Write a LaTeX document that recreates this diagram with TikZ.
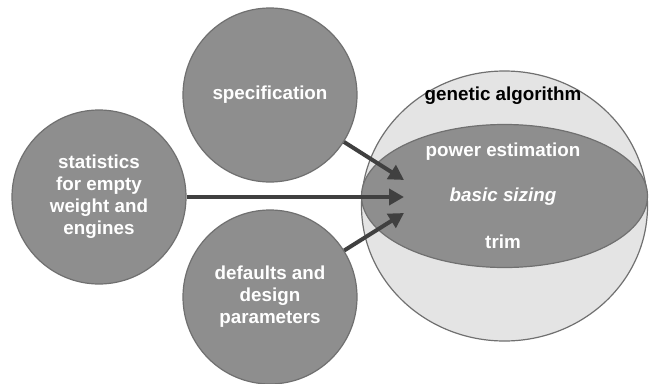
\documentclass[tikz,border=0pt]{standalone}
\usepackage{fontspec}
\setmainfont{Liberation Sans}
\usetikzlibrary{arrows.meta,shapes.geometric}
\definecolor{cfill}{HTML}{8E8E8E}
\definecolor{cline}{HTML}{707070}
\definecolor{bigfill}{HTML}{E4E4E4}
\definecolor{arrowc}{HTML}{404040}
\begin{document}
\begin{tikzpicture}[x=1pt,y=-1pt,
  src/.style={circle,draw=cline,line width=1.2pt,fill=cfill,minimum size=174pt,inner sep=0pt,
    text=white,font=\bfseries\fontsize{18.8}{22}\selectfont,align=center},
  arr/.style={draw=arrowc,line width=4pt,-{Triangle[length=15pt,width=16pt]}},
  intxt/.style={text=white,font=\bfseries\fontsize{18.8}{22}\selectfont}]
\useasboundingbox (0,0) rectangle (650,383);
\fill[white] (0,0) rectangle (650,383);
% big circle
\node[ellipse,draw=cline,line width=1.2pt,fill=bigfill,minimum width=286pt,minimum height=270pt,inner sep=0pt] (ga) at (504.5,206) {};
\node[ellipse,draw=cline,line width=1.2pt,fill=cfill,minimum width=286pt,minimum height=143pt,inner sep=0pt] (inner) at (504.5,196) {};
\node[font=\bfseries\fontsize{18.8}{22}\selectfont,text=black] (gat) at (503,96) {genetic algorithm};
\node[intxt] (pe) at (503,152) {power estimation};
\node[intxt,font=\bfseries\itshape\fontsize{18.8}{22}\selectfont] (bs) at (503,197) {basic sizing};
\node[intxt] (tr) at (503,242) {trim};
% source circles
\node[src] (spec) at (270,95) {specification};
\node[src] (stat) at (99,197) {statistics\\for empty\\weight and\\engines};
\node[src] (def) at (270,297) {defaults and\\design\\parameters};
% arrows
\coordinate (t1) at (404,180);
\coordinate (t2) at (404,197);
\coordinate (t3) at (404,213);
\draw[arr] (spec) -- (t1);
\draw[arr] (stat.east) -- (t2);
\draw[arr] (def) -- (t3);
\end{tikzpicture}
\end{document}
